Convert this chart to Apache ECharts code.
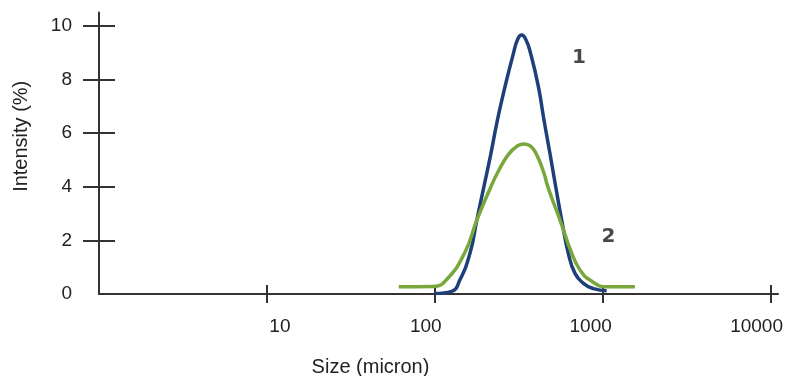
<!DOCTYPE html>
<html>
<head>
<meta charset="utf-8">
<script src="https://cdn.jsdelivr.net/npm/echarts@6/dist/echarts.min.js"></script>
<style>
  html, body { margin: 0; padding: 0; background: #ffffff; }
  #chart { width: 788px; height: 376px; }
</style>
</head>
<body>
<div id="chart"></div>
<script>
// Size (micron), Intensity (%) pairs
const curve1Sizes = [100, 126, 141, 162, 178, 196, 216, 236, 262, 294, 311, 329, 349, 372, 414, 447, 485, 525, 570, 624, 684, 767, 880, 1056];
const curve1Values = [0.02, 0.1, 0.52, 1.52, 2.76, 4.0, 5.25, 6.49, 7.74, 8.98, 9.49, 9.66, 9.49, 8.98, 7.74, 6.49, 5.25, 4.0, 2.76, 1.52, 0.77, 0.4, 0.2, 0.12];

const curve2Sizes = [61, 98, 118, 151, 178, 213, 239, 274, 310, 340, 372, 404, 443, 474, 557, 654, 732, 840, 1056, 1556];
const curve2Values = [0.27, 0.28, 0.55, 1.55, 2.76, 3.92, 4.58, 5.2, 5.52, 5.6, 5.52, 5.2, 4.58, 3.95, 2.76, 1.52, 0.9, 0.52, 0.27, 0.27];

const xTickValues = [10, 100, 1000, 10000];
const yTickValues = [2, 4, 6, 8, 10];
const yLabelValues = [0, 2, 4, 6, 8, 10];

const curveLabels = ['1', '2'];
const curveLabelSizes = [722, 1083];
const curveLabelValues = [8.8, 2.15];

const xName = 'Size (micron)';
const yName = 'Intensity (%)';

const pairs = (xs, ys) => xs.map((x, i) => [x, ys[i]]);

const axisColor = '#333333';
const textColor = '#222222';
const fontFamily = 'Liberation Sans, Arial, sans-serif';

// layout (pixels)
const G = { left: 99, right: 10, top: 12.6, bottom: 82 };
const W = 788, H = 376;
const gridW = W - G.left - G.right;
const gridH = H - G.top - G.bottom;
const xTickHalf = 9, yTickHalf = 16;

// horizontal nudges of x tick labels, as in the reference (px; + = right)
const xLabelShift = { 10: 13, 100: -9, 1000: -12, 10000: -14 };
const richX = {};
xTickValues.forEach(v => {
  const s = xLabelShift[v];
  richX['v' + v] = {
    color: textColor, fontSize: 19, fontFamily: fontFamily,
    padding: s >= 0 ? [0, 0, 0, 2 * s] : [0, -2 * s, 0, 0]
  };
});

const chart = echarts.init(document.getElementById('chart'));
chart.setOption({
  animation: false,
  backgroundColor: '#ffffff',
  grid: { left: G.left, right: G.right, top: G.top, bottom: G.bottom, containLabel: false, outerBoundsMode: 'none' },
  xAxis: [
    {
      type: 'log', logBase: 10, min: 1, max: 11070, position: 'bottom', offset: -xTickHalf,
      axisLine: { show: false },
      axisTick: { show: true, inside: false, length: 2 * xTickHalf, customValues: xTickValues, lineStyle: { color: axisColor, width: 2 } },
      axisLabel: { show: true, customValues: xTickValues, margin: 23 + xTickHalf, rich: richX,
        formatter: v => { const r = Math.round(v); return '{v' + r + '|' + r + '}'; } },
      splitLine: { show: false }, minorTick: { show: false },
      name: xName, nameLocation: 'middle', nameGap: 63 + xTickHalf,
      nameTextStyle: { color: textColor, fontSize: 20, fontFamily: fontFamily, padding: [0, 136, 0, 0] }
    },
    {
      type: 'log', logBase: 10, min: 1, max: 11070, position: 'top', offset: -gridH,
      axisLine: { show: true, lineStyle: { color: axisColor, width: 2 } },
      axisTick: { show: false }, axisLabel: { show: false }, splitLine: { show: false }
    }
  ],
  yAxis: [
    {
      type: 'value', min: 0, max: 10.5, position: 'left', offset: -yTickHalf,
      axisLine: { show: false },
      axisTick: { show: true, inside: false, length: 2 * yTickHalf, customValues: yTickValues, lineStyle: { color: axisColor, width: 2 } },
      axisLabel: { show: true, customValues: yLabelValues, margin: 27 + yTickHalf, color: textColor, fontSize: 19, fontFamily: fontFamily },
      splitLine: { show: false },
      name: yName, nameLocation: 'middle', nameGap: 68 + yTickHalf, nameRotate: 90,
      nameTextStyle: { color: textColor, fontSize: 20, fontFamily: fontFamily, padding: [0, 0, 0, 34] }
    },
    {
      type: 'value', min: 0, max: 10.5, position: 'right', offset: -gridW,
      axisLine: { show: true, lineStyle: { color: axisColor, width: 2 } },
      axisTick: { show: false }, axisLabel: { show: false }, splitLine: { show: false }
    }
  ],
  series: [
    {
      name: '1', type: 'line', xAxisIndex: 0, yAxisIndex: 0,
      data: pairs(curve1Sizes, curve1Values),
      smooth: 0.5, showSymbol: false, symbol: 'none',
      lineStyle: { color: '#1f3f7a', width: 3.5 }, z: 3
    },
    {
      name: '2', type: 'line', xAxisIndex: 0, yAxisIndex: 0,
      data: pairs(curve2Sizes, curve2Values),
      smooth: 0.5, showSymbol: false, symbol: 'none',
      lineStyle: { color: '#78a83c', width: 3.5 }, z: 4
    },
    {
      name: 'labels', type: 'scatter', xAxisIndex: 0, yAxisIndex: 0,
      data: pairs(curveLabelSizes, curveLabelValues).map((p, i) => ({ value: p, name: curveLabels[i] })),
      symbol: 'circle', symbolSize: 1, itemStyle: { color: 'rgba(0,0,0,0)' },
      label: { show: true, position: 'inside', formatter: p => p.name, color: '#1a1a1a',
        fontSize: 20, fontWeight: 'bold', fontFamily: 'DejaVu Sans, sans-serif' },
      silent: true, z: 5
    }
  ]
});
</script>
</body>
</html>
